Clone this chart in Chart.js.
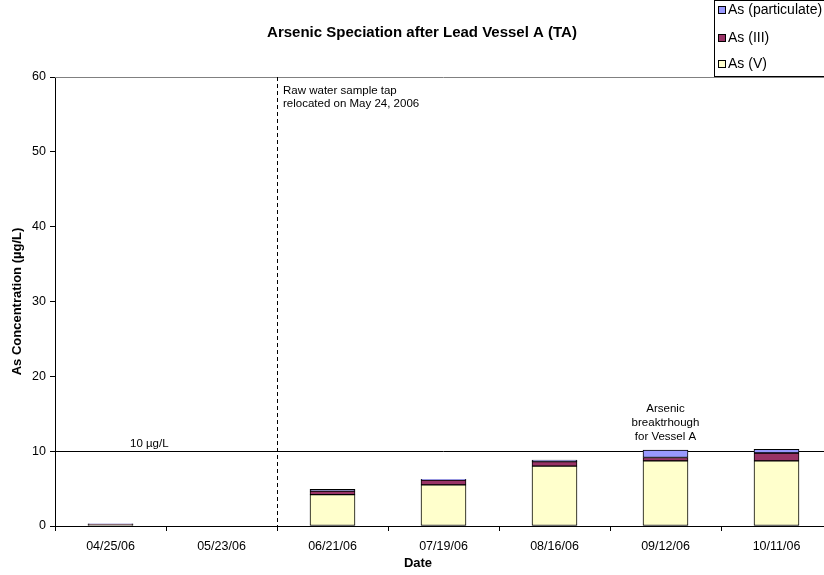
<!DOCTYPE html>
<html>
<head>
<meta charset="utf-8">
<script src="https://cdn.jsdelivr.net/npm/chart.js@4/dist/chart.umd.min.js"></script>
<style>
html,body{margin:0;padding:0;overflow:hidden;background:#fff;width:824px;height:575px;}
#wrap{position:absolute;left:0;top:0;width:840px;height:575px;}
</style>
</head>
<body>
<div id="wrap"><canvas id="c" width="840" height="575"></canvas></div>
<script>
const categories = ["04/25/06","05/23/06","06/21/06","07/19/06","08/16/06","09/12/06","10/11/06"];
const asV = [0.2, null, 4.2, 5.5, 8.0, 8.7, 8.7];
const asIII = [0.05, null, 0.45, 0.65, 0.6, 0.45, 1.05];
const asPart = [0.05, null, 0.25, 0.1, 0.2, 1.0, 0.5];
const yTicks = [0, 10, 20, 30, 40, 50, 60];
const mclValue = 10;
const relocateIndex = 1.5;
const breakthroughIndex = 5;

const FONT = '"Liberation Sans", Arial, sans-serif';

const decor = {
  id: 'decor',
  beforeDatasetsDraw(chart) {
    const {ctx, chartArea: a, scales: {x, y}} = chart;
    ctx.save();
    ctx.strokeStyle = '#808080';
    ctx.lineWidth = 1;
    ctx.beginPath();
    ctx.moveTo(a.left, Math.round(a.top) + 0.5);
    ctx.lineTo(a.right, Math.round(a.top) + 0.5);
    ctx.stroke();
    const yy = Math.round(y.getPixelForValue(mclValue)) + 0.5;
    ctx.strokeStyle = '#000';
    ctx.beginPath();
    ctx.moveTo(a.left, yy);
    ctx.lineTo(a.right, yy);
    ctx.stroke();
    const xv = Math.round((x.getPixelForValue(Math.floor(relocateIndex)) + x.getPixelForValue(Math.ceil(relocateIndex))) / 2) + 0.5;
    ctx.setLineDash([4, 3]);
    ctx.beginPath();
    ctx.moveTo(xv, a.top);
    ctx.lineTo(xv, a.bottom);
    ctx.stroke();
    ctx.setLineDash([]);
    ctx.restore();
  },
  afterDraw(chart) {
    const {ctx, chartArea: a, scales: {x, y}} = chart;
    ctx.save();
    ctx.fillStyle = '#000';
    ctx.font = 'bold 15px ' + FONT;
    ctx.textAlign = 'center';
    ctx.textBaseline = 'middle';
    ctx.fillText('Arsenic Speciation after Lead Vessel A (TA)', 422, 33);
    ctx.font = 'bold 13px ' + FONT;
    ctx.fillText('Date', 418, 563);
    ctx.save();
    ctx.translate(17, (a.top + a.bottom) / 2);
    ctx.rotate(-Math.PI / 2);
    ctx.fillText('As Concentration (\u00b5g/L)', 0, 0);
    ctx.restore();
    ctx.font = '11.5px ' + FONT;
    ctx.textAlign = 'left';
    const yy = y.getPixelForValue(mclValue);
    ctx.fillText('10 \u00b5g/L', 130, yy - 7);
    const xv = (x.getPixelForValue(1) + x.getPixelForValue(2)) / 2;
    ctx.fillText('Raw water sample tap', xv + 6, 91);
    ctx.fillText('relocated on May 24, 2006', xv + 6, 104);
    ctx.textAlign = 'center';
    const xb = x.getPixelForValue(breakthroughIndex);
    ctx.fillText('Arsenic', xb, 409);
    ctx.fillText('breaktrhough', xb, 423);
    ctx.fillText('for Vessel A', xb, 437);
    // Legend
    ctx.strokeStyle = '#000';
    ctx.lineWidth = 1;
    ctx.fillStyle = '#fff';
    ctx.fillRect(714.5, 0.5, 130, 76);
    ctx.strokeRect(714.5, 0.5, 130, 76);
    const items = [['As (particulate)', '#9999FF'], ['As (III)', '#993366'], ['As (V)', '#FFFFCC']];
    const ys = [10, 38, 64];
    ctx.font = '14px ' + FONT;
    ctx.textAlign = 'left';
    items.forEach((it, i) => {
      ctx.fillStyle = it[1];
      ctx.fillRect(718.5, ys[i] - 3.5, 7, 7);
      ctx.strokeRect(718.5, ys[i] - 3.5, 7, 7);
      ctx.fillStyle = '#000';
      ctx.fillText(it[0], 728, ys[i]);
    });
    ctx.restore();
  }
};

new Chart(document.getElementById('c'), {
  type: 'bar',
  data: {
    labels: categories,
    datasets: [
      {label: 'As (V)', data: asV, backgroundColor: '#FFFFCC', borderColor: '#000', borderWidth: 1, borderSkipped: false},
      {label: 'As (III)', data: asIII, backgroundColor: '#993366', borderColor: '#000', borderWidth: 1, borderSkipped: false},
      {label: 'As (particulate)', data: asPart, backgroundColor: '#9999FF', borderColor: '#000', borderWidth: 1, borderSkipped: false}
    ]
  },
  options: {
    responsive: false,
    animation: false,
    devicePixelRatio: 1,
    layout: {padding: {top: 77, right: 8, left: 0, bottom: 0}},
    datasets: {bar: {barThickness: 45}},
    plugins: {legend: {display: false}, title: {display: false}, tooltip: {enabled: false}},
    scales: {
      x: {
        stacked: true,
        grid: {display: true, drawOnChartArea: false, offset: true, tickLength: 5, color: '#000'},
        border: {color: '#000', width: 1},
        ticks: {color: '#000', font: {family: FONT, size: 12.5}, padding: 8, maxRotation: 0, autoSkip: false},
        afterFit(s) { s.height = 49; }
      },
      y: {
        stacked: true,
        min: 0, max: 60,
        afterBuildTicks(s) { s.ticks = yTicks.map(v => ({value: v})); },
        grid: {display: true, drawOnChartArea: false, tickLength: 5, color: '#000'},
        border: {color: '#000', width: 1},
        ticks: {color: '#000', font: {family: FONT, size: 12.5}, padding: 4},
        afterFit(s) { s.width = 55; }
      }
    }
  },
  plugins: [decor]
});
</script>
</body>
</html>
